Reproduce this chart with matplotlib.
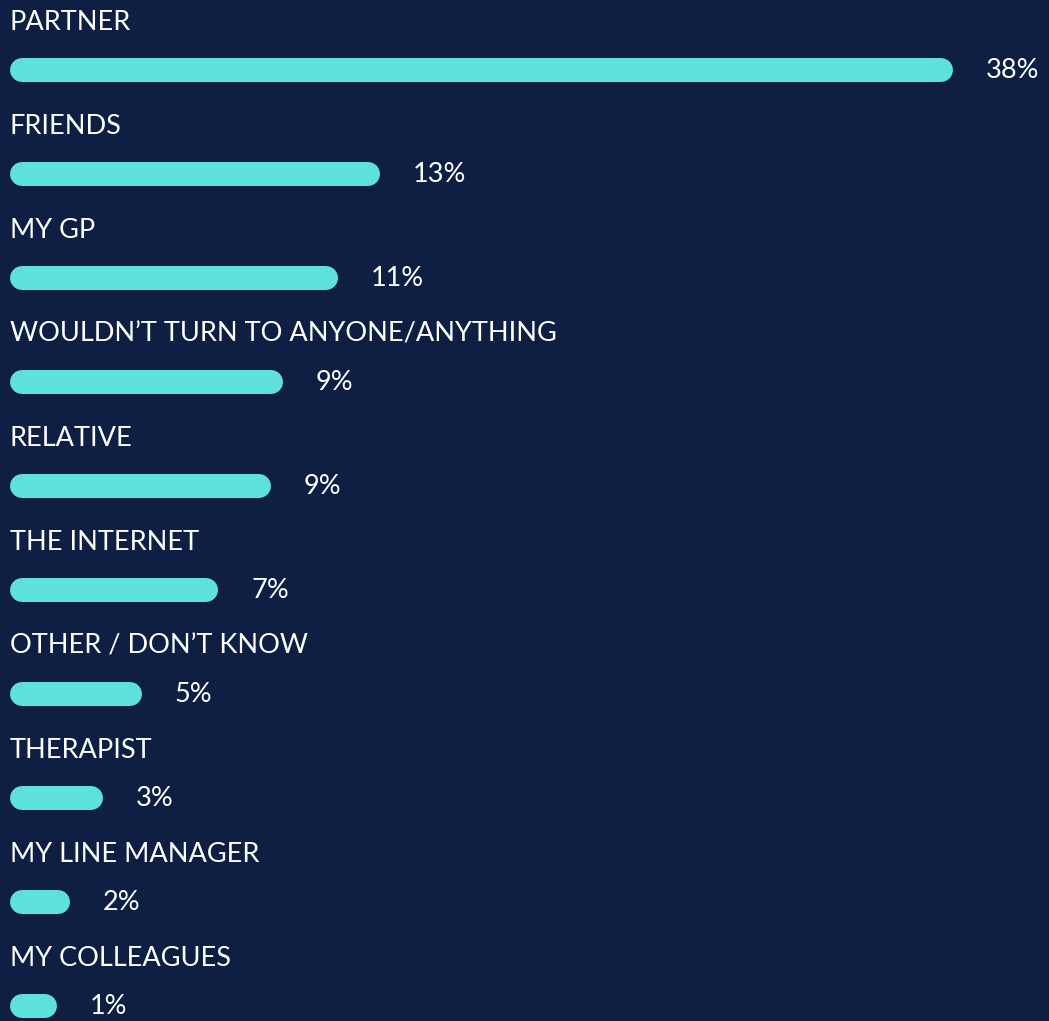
import numpy as np
import matplotlib.pyplot as plt

# categories, top to bottom
categories = ["PARTNER", "FRIENDS", "MY GP", "WOULDN\u2019T TURN TO ANYONE/ANYTHING",
              "RELATIVE", "THE INTERNET", "OTHER / DON\u2019T KNOW", "THERAPIST",
              "MY LINE MANAGER", "MY COLLEAGUES"]
# values printed next to the bars
pct_labels = ["38%", "13%", "11%", "9%", "9%", "7%", "5%", "3%", "2%", "1%"]
# bar lengths (same units as the printed %)
bar_values = [38.0, 14.9, 13.2, 11.0, 10.5, 8.4, 5.3, 3.75, 2.4, 1.9]

BG = "#0e1f43"
BAR = "#5ee0de"

W, H, DPI = 1049, 1021, 100
px_per_unit = 943 / 38.0          # horizontal scale, pixels per percent
row_px = 104.0                    # vertical pitch of one row in pixels
top_px = 22                       # centre of the first label

fig = plt.figure(figsize=(W / DPI, H / DPI), dpi=DPI, facecolor=BG)
ax = fig.add_axes([0, 0, 1, 1])
ax.set_facecolor(BG)
ax.set_xlim(-10 / px_per_unit, (W - 10) / px_per_unit)
ax.set_ylim((H - top_px) / row_px, -top_px / row_px)
ax.axis("off")

bar_h_px = 24
r = (bar_h_px / 2) / px_per_unit  # cap radius in data units
lw_pt = bar_h_px * 72 / DPI
bar_off = 48 / row_px
gap = 33 / px_per_unit

font = dict(family=["Lato", "DejaVu Sans"], fontsize=19.5, color="white")

for i, (cat, lab, v) in enumerate(zip(categories, pct_labels, bar_values)):
    yb = i + bar_off
    ax.plot([r, v - r], [yb, yb], color=BAR, lw=lw_pt, solid_capstyle="round")
    ax.text(0, i, cat, ha="left", va="center", **font)
    ax.text(v + gap, yb, lab, ha="left", va="center", **font)

fig.savefig("out.png", dpi=DPI, facecolor=BG)
